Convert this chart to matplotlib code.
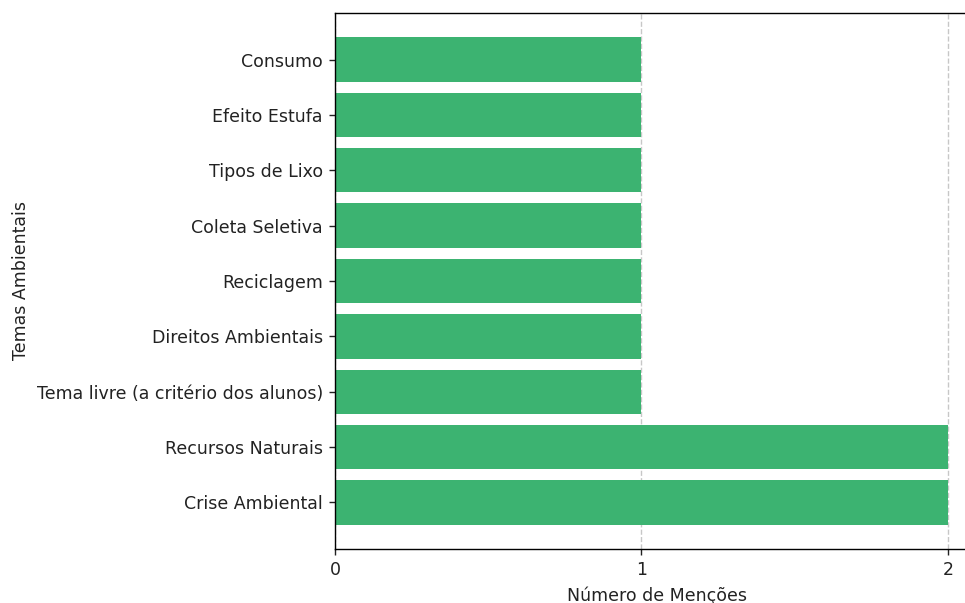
import matplotlib

matplotlib.use("Agg")

import matplotlib.pyplot as plt

temas = [
    "Crise Ambiental",
    "Recursos Naturais",
    "Tema livre (a critério dos alunos)",
    "Direitos Ambientais",
    "Reciclagem",
    "Coleta Seletiva",
    "Tipos de Lixo",
    "Efeito Estufa",
    "Consumo",
]
mencoes = [2, 2, 1, 1, 1, 1, 1, 1, 1]

# reference looks like a default chart rendered ~1.25x larger
plt.rcParams.update({
    "font.size": 12.5,
    "axes.linewidth": 1.0,
    "xtick.major.size": 4.4,
    "ytick.major.size": 4.4,
    "xtick.major.width": 1.0,
    "ytick.major.width": 1.0,
    "xtick.major.pad": 4.4,
    "ytick.major.pad": 4.4,
    "axes.labelpad": 5,
    "text.color": "#222222",
    "xtick.color": "#222222",
    "ytick.color": "#222222",
    "axes.labelcolor": "#222222",
})

fig = plt.figure(figsize=(9.65, 6.03), dpi=100)
ax = fig.add_axes([335 / 965, 1 - 549 / 603, (978.6 - 335) / 965, 536 / 603])
ax.barh(temas, mencoes, color="mediumseagreen")
ax.set_xticks([0, 1, 2])
ax.set_xlabel("Número de Menções")
ax.set_ylabel("Temas Ambientais")
ax.grid(True, axis="x", linestyle="--", alpha=0.7, linewidth=1.0)
ax.set_axisbelow(True)
fig.savefig("out.png", dpi=100)
